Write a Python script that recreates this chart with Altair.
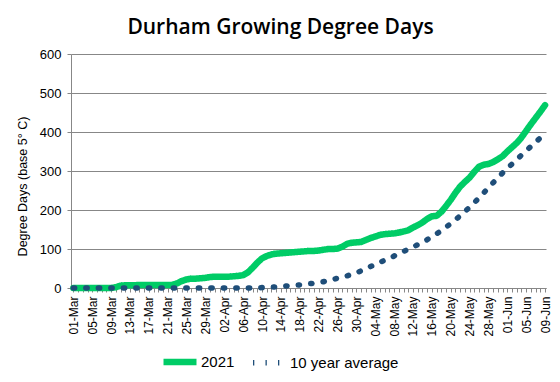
import altair as alt
import pandas as pd

TICK_LABELS = ["01-Mar", "05-Mar", "09-Mar", "13-Mar", "17-Mar", "21-Mar", "25-Mar",
               "29-Mar", "02-Apr", "06-Apr", "10-Apr", "14-Apr", "18-Apr", "22-Apr",
               "26-Apr", "30-Apr", "04-May", "08-May", "12-May", "16-May", "20-May",
               "24-May", "28-May", "01-Jun", "05-Jun", "09-Jun"]

DAYS = list(range(101))  # day index from 01-Mar to 09-Jun

GDD_2021 = [0, 0, 0, 0, 0, 0, 0, 0, 0,
            2, 6, 7, 7, 7, 8, 8, 8, 8, 8, 8, 8, 8,
            12, 18, 22, 24, 24, 25, 26, 28, 29, 29, 29, 29, 30, 31,
            33, 40, 52, 65, 76, 82, 86, 88, 89, 90, 91, 92, 93, 94,
            95, 95, 96, 98, 100, 100, 101, 106, 113, 116, 117, 118, 123, 128,
            132, 136, 138, 139, 140, 142, 145, 148, 155, 161, 168, 177, 184, 185,
            195, 210, 226, 244, 260, 272, 283, 298, 311, 316, 318, 323, 330, 338,
            350, 361, 372, 386, 403, 420, 436, 452, 469]

GDD_AVG = [0] * 39 + [0.5, 1, 1.5, 2, 3, 4, 5, 6, 7, 8, 9, 11, 12, 14, 16, 19, 22, 25,
                      28, 31, 35, 39, 44, 50, 55, 60, 66, 71, 76, 82, 88, 94, 99, 105,
                      111, 117, 124, 131, 139, 147, 156, 165, 175, 185, 196, 207, 219,
                      231, 244, 257, 270, 283, 295, 307, 318, 329, 341, 352, 363, 374,
                      385, 392]

SERIES = ["2021", "10 year average"]
COLORS = ["#00cc66", "#1f4e79"]
GRAY = "#878787"

df = pd.DataFrame({
    "day": DAYS + DAYS,
    "value": GDD_2021 + GDD_AVG,
    "series": [SERIES[0]] * len(DAYS) + [SERIES[1]] * len(DAYS),
})

label_expr = ("datum.value % 4 == 0 ? " + str(TICK_LABELS) + "[datum.value / 4] : ''")

legend = alt.Legend(
    title=None, orient="none", legendX=89, legendY=288, direction="horizontal",
    symbolType="stroke", symbolSize=1089, labelFontSize=15, labelOffset=1,
    columnPadding=7, labelColor="#000000", labelFont="Liberation Sans",
)

chart = alt.Chart(df).mark_line(strokeCap="round", strokeJoin="round").encode(
    x=alt.X("day:Q", scale=alt.Scale(domain=[-0.5, 100.2], nice=False, zero=False),
            axis=alt.Axis(values=DAYS, labelExpr=label_expr, labelAngle=270,
                          labelOverlap=False, labelBound=False, labelFlush=False,
                          grid=False, title=None, tickSize=4, tickColor=GRAY,
                          domainColor=GRAY, labelFontSize=12, labelPadding=4,
                          labelColor="#000000", labelFont="Liberation Sans")),
    y=alt.Y("value:Q", scale=alt.Scale(domain=[0, 600], nice=False),
            axis=alt.Axis(values=[0, 100, 200, 300, 400, 500, 600],
                          title="Degree Days (base 5° C)", titleFontSize=12.5,
                          titleFontWeight="normal", titleFont="Liberation Sans",
                          titleColor="#000000", titleX=-49, titleY=132,
                          titleAngle=270, titleAlign="center", titleBaseline="middle",
                          labelFontSize=13, labelColor="#000000", labelPadding=6,
                          labelFont="Liberation Sans",
                          tickSize=4, tickColor=GRAY, domainColor=GRAY,
                          gridColor=GRAY, gridWidth=1)),
    color=alt.Color("series:N", scale=alt.Scale(domain=SERIES, range=COLORS),
                    sort=SERIES, legend=legend),
    strokeDash=alt.StrokeDash("series:N", scale=alt.Scale(domain=SERIES,
                              range=[[1, 0], [1.3, 11.2]]), sort=SERIES, legend=legend),
    strokeWidth=alt.StrokeWidth("series:N", scale=alt.Scale(domain=SERIES, range=[6.5, 5.5]),
                                sort=SERIES, legend=legend),
).properties(
    width=475, height=234,
    padding={"left": 63, "top": 46, "right": 6, "bottom": 86},
    autosize=alt.AutoSizeParams(type="none"),
    title=alt.TitleParams("Durham Growing Degree Days", fontSize=21, fontWeight=600,
                          font="Open Sans", anchor="middle", dx=-28, offset=10,
                          color="#000000"),
).configure_view(stroke=None)

chart.save("out.html", embed_options={"renderer": "svg", "actions": False})
